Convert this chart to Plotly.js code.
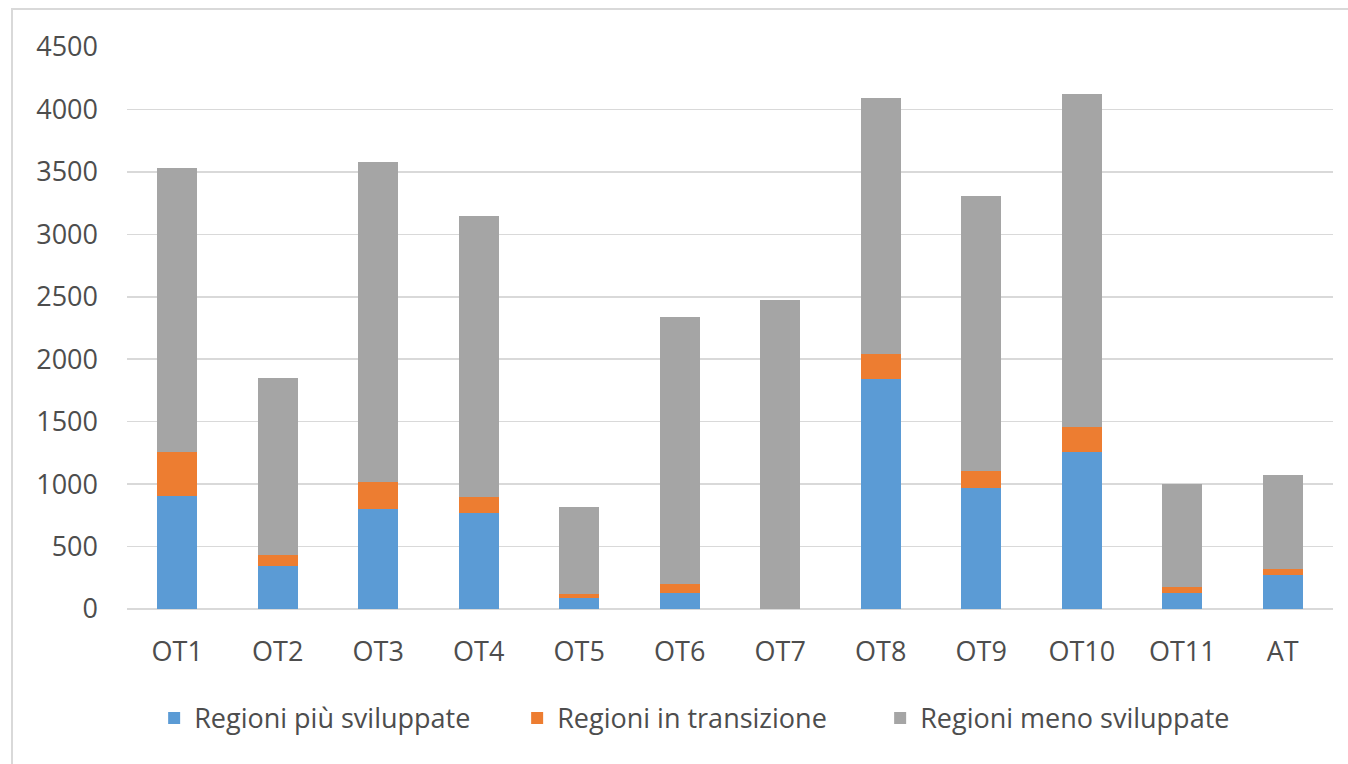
<!DOCTYPE html>
<html>
<head>
<meta charset="utf-8">
<script src="https://cdn.plot.ly/plotly-3.0.1.min.js"></script>
<style>
  html, body { margin: 0; padding: 0; background: #fff; overflow: hidden; }
  #frame { position: absolute; left: 11px; top: 8px; width: 1400px; height: 800px;
           border-left: 2px solid #D9D9D9; border-top: 2px solid #D9D9D9; box-sizing: border-box; }
  #chart { position: absolute; left: 0; top: 0; width: 1348px; height: 764px; }
</style>
</head>
<body>
<div id="frame"></div>
<div id="chart"></div>
<script>
const categories = ["OT1","OT2","OT3","OT4","OT5","OT6","OT7","OT8","OT9","OT10","OT11","AT"];
const piuSviluppate  = [905, 345, 803, 766, 88, 126, 0, 1842, 966, 1257, 126, 272];
const inTransizione  = [352, 87, 216, 128, 32, 72, 0, 197, 142, 203, 53, 51];
const menoSviluppate = [2274, 1418, 2560, 2253, 696, 2140, 2474, 2053, 2199, 2664, 822, 748];
const seriesNames = ["Regioni più sviluppate", "Regioni in transizione", "Regioni meno sviluppate"];
const yTicks = [0, 500, 1000, 1500, 2000, 2500, 3000, 3500, 4000, 4500];

const colors = ["#5B9BD5", "#ED7D31", "#A5A5A5"];
const vals = [piuSviluppate, inTransizione, menoSviluppate];
const traces = vals.map((v, i) => ({
  type: "bar",
  name: seriesNames[i],
  x: categories,
  y: v,
  marker: { color: colors[i], line: { width: 0 } },
  hoverinfo: "x+y+name"
}));

const layout = {
  width: 1348, height: 764,
  margin: { l: 127, r: 15, t: 47, b: 155 },
  paper_bgcolor: "rgba(0,0,0,0)",
  plot_bgcolor: "rgba(0,0,0,0)",
  barmode: "stack",
  bargap: 0.6,
  font: { family: "Open Sans, sans-serif", size: 27, color: "#4d4d4d" },
  xaxis: {
    type: "category",
    showgrid: false,
    showline: false,
    zeroline: false,
    ticks: "",
    ticklabelstandoff: 24,
    tickfont: { size: 27, color: "#4d4d4d" }
  },
  yaxis: {
    range: [0, 4500],
    tickvals: yTicks,
    ticktext: yTicks.map(String),
    showgrid: true,
    gridcolor: "#D9D9D9",
    gridwidth: 1.5,
    zeroline: true,
    zerolinecolor: "#D9D9D9",
    zerolinewidth: 1.5,
    showline: false,
    ticks: "",
    ticklabelstandoff: 28,
    tickfont: { size: 27, color: "#4d4d4d" }
  },
  legend: {
    orientation: "h",
    x: 0.474, xanchor: "center",
    y: -0.151, yanchor: "top",
    font: { size: 27, color: "#4d4d4d" },
    itemwidth: 30,
    entrywidth: 318,
    entrywidthmode: "pixels",
    traceorder: "normal"
  },
  showlegend: true
};

Plotly.newPlot("chart", traces, layout, { displayModeBar: false, staticPlot: true });
</script>
</body>
</html>
